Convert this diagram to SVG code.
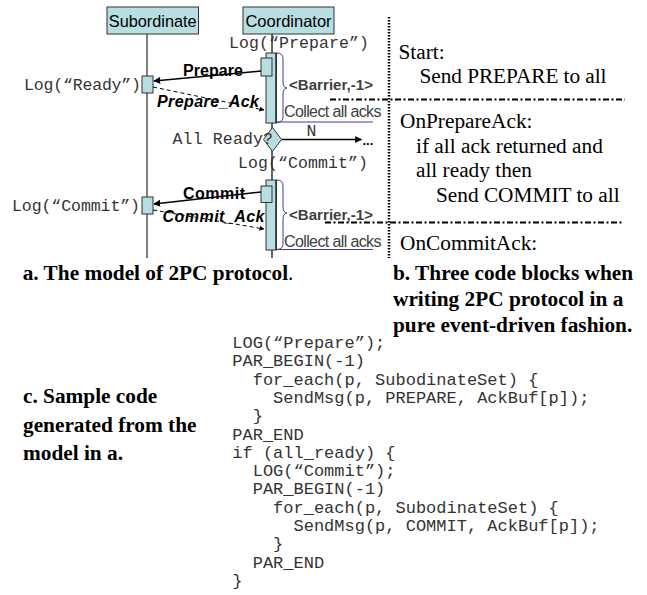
<svg xmlns="http://www.w3.org/2000/svg" width="647" height="595" viewBox="0 0 647 595">
<style>
.box{fill:#B7DEE0;stroke:#333;stroke-width:1}
.bar{fill:#B7DEE0;stroke:#333;stroke-width:1}
.sans{font-family:"Liberation Sans",Arial,sans-serif}
.mono{font-family:"Liberation Mono","Courier New",monospace;font-size:16.5px;fill:#333}
.serif{font-family:"Liberation Serif","Times New Roman",serif;font-size:21.3px;fill:#000}
.cap{font-family:"Liberation Serif","Times New Roman",serif;font-size:21.3px;font-weight:bold;fill:#000}
.code{font-family:"Liberation Mono","Courier New",monospace;font-size:17px;fill:#333}
.msg{font-family:"Liberation Sans",Arial,sans-serif;font-size:16px;font-weight:bold;fill:#000}
.ack{font-family:"Liberation Sans",Arial,sans-serif;font-size:16px;font-weight:bold;font-style:italic;fill:#000}
.barrier{font-family:"Liberation Sans",Arial,sans-serif;font-size:15px;font-weight:bold;fill:#404040}
.collect{font-family:"Liberation Sans",Arial,sans-serif;font-size:16px;fill:#404040}
.brace{fill:none;stroke:#3A3AA0;stroke-width:1}
.solid{stroke:#000;stroke-width:1.5;fill:none}
.dashed{stroke:#000;stroke-width:1;stroke-dasharray:4 3;fill:none}
.dashdot{stroke:#000;stroke-width:2;stroke-dasharray:6 2.5 2 2.5;fill:none}
</style>
<defs>
<marker id="ah" viewBox="0 0 10 10" refX="9" refY="5" markerWidth="7" markerHeight="7" markerUnits="userSpaceOnUse" orient="auto">
<path d="M0,0 L10,5 L0,10 z" fill="#000"/>
</marker>
<marker id="ahs" viewBox="0 0 10 10" refX="9" refY="5" markerWidth="5" markerHeight="5" markerUnits="userSpaceOnUse" orient="auto">
<path d="M0,0 L10,5 L0,10 z" fill="#000"/>
</marker>
</defs>

<g id="lifelines">
<line x1="147" y1="34" x2="147" y2="258" stroke="#000" stroke-width="1"/>
<line x1="272" y1="34" x2="272" y2="258" stroke="#666" stroke-width="2"/>
</g>

<g id="subordinate">
<rect class="box" x="107" y="7" width="91.5" height="27"/>
<text class="sans" x="152.7" y="27" font-size="16.3" text-anchor="middle">Subordinate</text>
</g>

<g id="coordinator">
<rect class="box" x="243" y="7" width="91" height="27"/>
<text class="sans" x="288.5" y="27" font-size="16.5" text-anchor="middle">Coordinator</text>
</g>

<g id="log-prepare">
<text class="mono" x="229" y="47.5" textLength="140">Log(“Prepare”)</text>
</g>

<g id="coord-bar1">
<rect class="bar" x="266" y="53" width="10.5" height="70"/>
<line x1="275.7" y1="53" x2="275.7" y2="123" stroke="#333" stroke-width="1"/>
<rect class="bar" x="261" y="58" width="11" height="18"/>
</g>

<g id="sub-ready">
<rect class="box" x="142" y="76" width="11" height="17"/>
<text class="mono" x="24" y="90" textLength="117">Log(“Ready”)</text>
</g>

<g id="barrier1">
<path class="brace" d="M277,53 Q283,53 283,59 L283,82 Q283,87.5 287,88 Q283,88.5 283,94 L283,117 Q283,122 277,122.5"/>
<text class="barrier" x="289" y="90" textLength="84">&lt;Barrier,-1&gt;</text>
<text class="collect" x="284" y="117" textLength="97.5">Collect all acks</text>
<line x1="277" y1="122" x2="373" y2="122" stroke="#3A3AA0" stroke-width="1"/>
</g>

<g id="decision">
<path d="M272.5,127.5 L281.5,139.5 L272.5,151.5 L263.5,139.5 Z" fill="#B7DEE0" stroke="#333" stroke-width="1"/>
<text class="mono" x="172.5" y="144" textLength="100.5">All Ready?</text>
<text class="mono" x="306.5" y="136">N</text>
<text class="sans" x="362.5" y="145" font-size="13" font-weight="bold">...</text>
</g>

<g id="log-commit">
<text class="mono" x="238" y="168" textLength="130">Log(“Commit”)</text>
</g>

<g id="coord-bar2">
<rect class="bar" x="266" y="180" width="10.5" height="70"/>
<line x1="275.7" y1="180" x2="275.7" y2="250" stroke="#333" stroke-width="1"/>
<rect class="bar" x="261" y="186" width="11" height="16.5"/>
</g>

<g id="sub-commit">
<rect class="box" x="142" y="197" width="11" height="17"/>
<text class="mono" x="12" y="210.5" textLength="128">Log(“Commit”)</text>
</g>

<g id="barrier2">
<path class="brace" d="M277,180 Q283,180 283,186 L283,207 Q283,212.5 287,213 Q283,213.5 283,219 L283,244 Q283,249 277,249.5"/>
<text class="barrier" x="289" y="220" textLength="84">&lt;Barrier,-1&gt;</text>
<text class="collect" x="284" y="246.5" textLength="97.5">Collect all acks</text>
<line x1="277" y1="249.5" x2="373" y2="249.5" stroke="#3A3AA0" stroke-width="1"/>
</g>

<g id="message-labels">
<text class="msg" x="183" y="76" textLength="60">Prepare</text>
<text class="ack" x="157" y="107" textLength="102">Prepare_Ack</text>
<text class="msg" x="183" y="199" textLength="62">Commit</text>
<text class="ack" x="162.5" y="221.5" textLength="102">Commit_Ack</text>
</g>

<g id="connectors">
<line class="solid" x1="261" y1="71" x2="154" y2="81" marker-end="url(#ah)"/>
<line class="dashed" x1="153" y1="87" x2="264" y2="110" marker-end="url(#ahs)"/>
<line class="solid" x1="281.5" y1="139.5" x2="361.5" y2="139.5" stroke-width="1" marker-end="url(#ah)"/>
<line class="solid" x1="261" y1="192" x2="154" y2="204" marker-end="url(#ah)"/>
<line class="dashed" x1="153" y1="210" x2="264" y2="229" marker-end="url(#ahs)"/>
</g>

<g id="separators">
<line x1="389" y1="17" x2="389" y2="258" stroke="#000" stroke-width="2.5" stroke-dasharray="1.6 1.4"/>
<line class="dashdot" x1="330" y1="99.5" x2="625" y2="99.5"/>
<line class="dashdot" x1="325" y1="222.5" x2="622" y2="222.5"/>
</g>

<g id="code-blocks">
<text class="serif" x="398.5" y="59">Start:</text>
<text class="serif" x="419.5" y="83" textLength="187">Send PREPARE to all</text>
<text class="serif" x="400" y="128">OnPrepareAck:</text>
<text class="serif" x="416" y="152.5">if all ack returned and</text>
<text class="serif" x="416" y="177">all ready then</text>
<text class="serif" x="436" y="201.5">Send COMMIT to all</text>
<text class="serif" x="400" y="250">OnCommitAck:</text>
</g>

<g id="captions">
<text class="cap" x="22.7" y="280">a. The model of 2PC protocol<tspan font-weight="normal">.</tspan></text>
<text class="cap" x="393" y="280">b. Three code blocks when</text>
<text class="cap" x="393" y="306">writing 2PC protocol in a</text>
<text class="cap" x="393" y="332">pure event-driven fashion.</text>
<text class="cap" x="23" y="403">c. Sample code</text>
<text class="cap" x="23" y="431.5">generated from the</text>
<text class="cap" x="23" y="460">model in a.</text>
</g>

<g id="sample-code">
<text class="code" x="232.3" y="348">LOG(“Prepare”);</text>
<text class="code" x="232.3" y="366.3">PAR_BEGIN(-1)</text>
<text class="code" x="252.7" y="384.6">for_each(p, SubodinateSet) {</text>
<text class="code" x="273.1" y="402.9">SendMsg(p, PREPARE, AckBuf[p]);</text>
<text class="code" x="252.7" y="421.2">}</text>
<text class="code" x="232.3" y="439.5">PAR_END</text>
<text class="code" x="232.3" y="457.8">if (all_ready) {</text>
<text class="code" x="252.7" y="476.1">LOG(“Commit”);</text>
<text class="code" x="252.7" y="494.4">PAR_BEGIN(-1)</text>
<text class="code" x="273.1" y="512.7">for_each(p, SubodinateSet) {</text>
<text class="code" x="293.5" y="531">SendMsg(p, COMMIT, AckBuf[p]);</text>
<text class="code" x="273.1" y="549.3">}</text>
<text class="code" x="252.7" y="567.6">PAR_END</text>
<text class="code" x="232.3" y="585.9">}</text>
</g>
</svg>
